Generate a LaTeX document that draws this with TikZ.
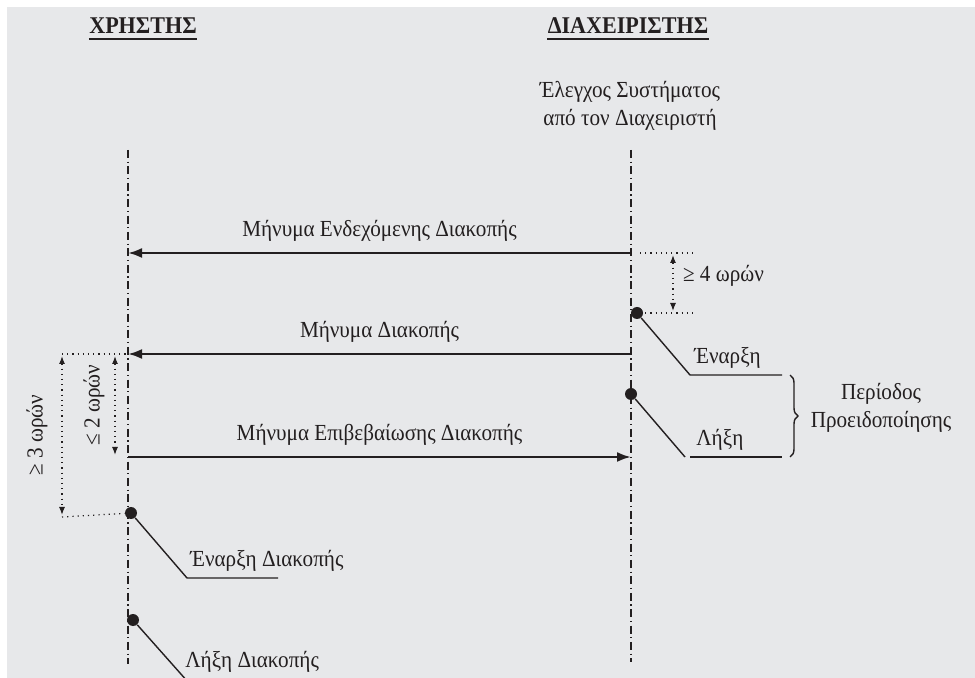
\documentclass[tikz,border=0pt]{standalone}
\usepackage{fontspec}
\setmainfont{Liberation Serif}[FakeStretch=0.92]
\usepackage{tikz}
\usetikzlibrary{positioning,arrows.meta,calc,decorations.pathreplacing}
\definecolor{paper}{HTML}{E7E8EA}
\definecolor{ink}{HTML}{231F20}

\begin{document}
\begin{tikzpicture}[
  x=0.5pt, y=-0.5pt,
  font=\fontsize{11.5}{14}\selectfont,
  text=ink,
  head/.style={
    font=\fontsize{12}{14}\selectfont\bfseries,
    inner sep=0pt,
  },
  life/.style={
    draw=ink,
    line width=0.6pt,
    dash pattern=on 4pt off 1.8pt on 0.6pt off 1.8pt,
  },
  msg/.style={
    draw=ink,
    line width=1.2pt,
    -{Latex[length=7pt,width=5pt]},
  },
  gap/.style={
    draw=ink,
    line width=0.6pt,
    dotted,
  },
  span/.style={
    draw=ink,
    line width=0.6pt,
    dotted,
    {Latex[length=4pt,width=3pt]}-{Latex[length=4pt,width=3pt]},
  },
  lead/.style={
    draw=ink,
    line width=0.7pt,
  },
  event/.style={
    circle,
    fill=ink,
    inner sep=0pt,
    minimum size=6pt,
  },
  tag/.style={
    inner sep=1pt,
    anchor=south west,
  }]
  % background
  \fill[white] (0,0) rectangle (975,678);
  \fill[paper] (7,7) rectangle (975,678);
  \useasboundingbox (0,0) rectangle (975,678);

  % headers
  \node[head, anchor=base] (USR) at (143,34) {ΧΡΗΣΤΗΣ};
  \node[head, anchor=base] (ADM) at (628,34) {ΔΙΑΧΕΙΡΙΣΤΗΣ};
  \draw[line width=1.1pt, draw=ink] ($(USR.south west)+(0,5)$) -- ($(USR.south east)+(0,5)$);
  \draw[line width=1.1pt, draw=ink] ($(ADM.south west)+(0,5)$) -- ($(ADM.south east)+(0,5)$);
  \node[align=center] (CHK) at (630,106) {Έλεγχος Συστήματος\\από τον Διαχειριστή};

  % lifelines
  \coordinate (Utop) at (128,150);
  \coordinate (Ubot) at (128,664);
  \coordinate (Atop) at (631,150);
  \coordinate (Abot) at (631,662);
  \draw[life] (Utop) -- (Ubot);
  \draw[life] (Atop) -- (Abot);

  % messages
  \coordinate (A1) at (631,253);
  \coordinate (U1) at (128,253);
  \coordinate (A2) at (631,354);
  \coordinate (U2) at (128,354);
  \coordinate (U3) at (128,457);
  \coordinate (A3) at (631,457);
  \draw[msg] (A1) -- node[midway, above=5pt, inner sep=0pt] (M1) {Μήνυμα Ενδεχόμενης Διακοπής} (U1);
  \draw[msg] (A2) -- node[midway, above=5pt, inner sep=0pt] (M2) {Μήνυμα Διακοπής} (U2);
  \draw[msg] (U3) -- node[midway, above=5pt, inner sep=0pt] (M3) {Μήνυμα Επιβεβαίωσης Διακοπής} (A3);

  % administrator side events
  \node[event] (START) at (637,313) {};
  \node[event] (STOP) at (631,394) {};
  \coordinate (g1) at (640,253);
  \coordinate (g1e) at (695,253);
  \coordinate (g2) at (640,313);
  \coordinate (g2e) at (695,313);
  \draw[gap] (g1) -- (g1e);
  \draw[gap] (g2) -- (g2e);
  \draw[span] (673,255) -- (673,311);
  \node[anchor=west] (H4) at (676,276) {≥ 4 ωρών};

  \coordinate (k1) at (690,375);
  \coordinate (k1e) at (782,375);
  \coordinate (k2) at (685,457);
  \coordinate (k2e) at (782,457);
  \draw[lead] (START) -- (k1) -- (k1e);
  \draw[lead] (STOP) -- (k2);
  \draw[lead] (690,457) -- (k2e);
  \node[tag] (BEG) at (692,371) {Έναρξη};
  \node[tag] (END) at (694,453) {Λήξη};

  \draw[lead, decorate, decoration={brace, amplitude=4pt}] (790,375) -- (790,457);
  \node[align=center] (PER) at (881,408) {Περίοδος\\Προειδοποίησης};

  % user side events
  \node[event] (UOFF) at (131,513) {};
  \node[event] (UON) at (133,620) {};
  \coordinate (h1) at (62,354);
  \coordinate (h2) at (62,517);
  \draw[gap] (h1) -- (U2);
  \draw[gap] (h2) -- (UOFF);
  \draw[span] (115,356) -- (115,455);
  \draw[span] (62,356) -- (62,515);
  \node[rotate=90] (H2) at (94,405) {≤ 2 ωρών};
  \node[rotate=90] (H3) at (37,435) {≥ 3 ωρών};

  \coordinate (j1) at (187,578);
  \coordinate (j1e) at (278,578);
  \coordinate (j2) at (188,682);
  \draw[lead] (UOFF) -- (j1) -- (j1e);
  \draw[lead] (UON) -- (j2);
  \node[tag] (UBEG) at (188,574) {Έναρξη Διακοπής};
  \node[tag] (UEND) at (183,675) {Λήξη Διακοπής};
\end{tikzpicture}
\end{document}
